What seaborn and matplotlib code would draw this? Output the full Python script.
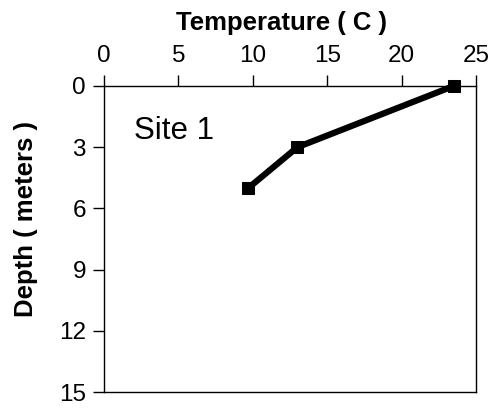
import matplotlib
matplotlib.use('Agg')
import matplotlib.pyplot as plt
import seaborn as sns
import pandas as pd

# Data
temperature = [23.5, 13.0, 9.7]
depth = [0, 3, 5]
x_ticks = [0, 5, 10, 15, 20, 25]
y_ticks = [0, 3, 6, 9, 12, 15]

df = pd.DataFrame({'Temperature': temperature, 'Depth': depth})

sns.set_style('white')
plt.rcParams['font.family'] = ['Liberation Sans', 'DejaVu Sans']
plt.rcParams['text.color'] = 'black'
plt.rcParams['axes.labelcolor'] = 'black'

fig = plt.figure(figsize=(4.94, 4.12), dpi=100)
ax = fig.add_axes([0.2105, 0.0485, 0.7531, 0.7428])

sns.lineplot(data=df, x='Temperature', y='Depth', sort=False, color='black',
             linewidth=4.5, marker='s', markersize=9, markeredgecolor='black',
             clip_on=False, ax=ax)

ax.set_xlim(0, 25)
ax.set_ylim(15, 0)
ax.set_xticks(x_ticks)
ax.set_yticks(y_ticks)
ax.xaxis.tick_top()
ax.xaxis.set_label_position('top')
ax.tick_params(axis='both', direction='out', length=8, width=1, labelsize=17.5,
               colors='black')
ax.tick_params(axis='x', bottom=False, top=True, pad=6)
ax.tick_params(axis='y', left=True, right=False, pad=5)

ax.set_xlabel('Temperature ( C )', fontsize=18.5, fontweight='bold', color='black')
ax.set_ylabel('Depth ( meters )', fontsize=18.5, fontweight='bold', color='black')
ax.xaxis.set_label_coords(0.478, 1.183)
ax.yaxis.set_label_coords(-0.178, 0.565)

for side in ax.spines.values():
    side.set_visible(True)
    side.set_color('black')
    side.set_linewidth(1)

ax.text(2.05, 2.23, 'Site 1', fontsize=22.5, va='center', ha='left', color='black')

fig.savefig('out.png', dpi=100)
